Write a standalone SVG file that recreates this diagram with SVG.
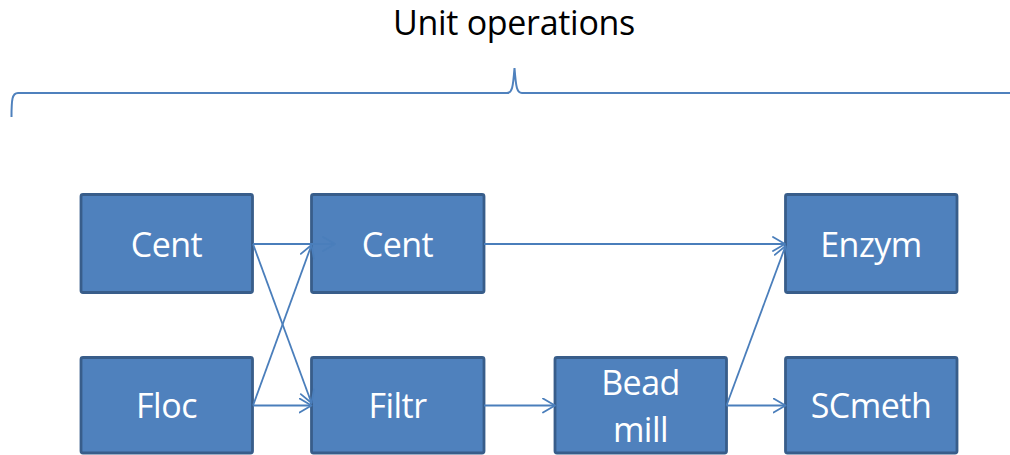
<svg xmlns="http://www.w3.org/2000/svg" width="1010" height="455" viewBox="0 0 1010 455">
  <defs>
    <marker id="arrow" markerUnits="userSpaceOnUse" markerWidth="16" markerHeight="18" refX="13" refY="8" orient="auto">
      <path d="M1,1 L13,8 L1,15" fill="none" stroke="#4a7ebb" stroke-width="1.8" stroke-linecap="round" stroke-linejoin="round"/>
    </marker>
  </defs>
  <style>
    .box { fill: #4f81bd; stroke: #385d8a; stroke-width: 2.8; }
    .label { font-family: "Open Sans", "Liberation Sans", sans-serif; font-size: 34px; letter-spacing: -0.5px; fill: #ffffff; text-anchor: middle; }
    .title { font-family: "Open Sans", "Liberation Sans", sans-serif; font-size: 34px; letter-spacing: -0.3px; fill: #000000; text-anchor: middle; }
    .link { fill: none; stroke: #4a7ebb; stroke-width: 1.8; marker-end: url(#arrow); }
    .brace { fill: none; stroke: #4f81bd; stroke-width: 2; }
  </style>

  <rect width="1010" height="455" fill="#ffffff"/>

  <text class="title" x="514" y="35">Unit operations</text>
  <path class="brace" d="M11.5,117 C11.5,100 12,93 18,93 L507,93 C512,93 513,88 514.5,68 C516,88 517,93 522,93 L1012,93"/>

  <g id="node-cent1">
    <rect class="box" x="81" y="194.5" width="171.5" height="98" rx="2"/>
    <text class="label" x="166.5" y="256.5">Cent</text>
  </g>
  <g id="node-floc">
    <rect class="box" x="81" y="357.5" width="171.5" height="95.5" rx="2"/>
    <text class="label" x="166.5" y="418">Floc</text>
  </g>
  <g id="node-cent2">
    <rect class="box" x="311.5" y="194.5" width="172.5" height="98" rx="2"/>
    <text class="label" x="397.5" y="256.5">Cent</text>
  </g>
  <g id="node-filtr">
    <rect class="box" x="311.5" y="357.5" width="172.5" height="95.5" rx="2"/>
    <text class="label" x="397.5" y="418">Filtr</text>
  </g>
  <g id="node-beadmill">
    <rect class="box" x="555" y="357.5" width="171.5" height="95.5" rx="2"/>
    <text class="label" x="640.5" y="395">Bead</text>
    <text class="label" x="640.5" y="442">mill</text>
  </g>
  <g id="node-enzym">
    <rect class="box" x="785.5" y="194.5" width="171.5" height="98" rx="2"/>
    <text class="label" x="871" y="256.5">Enzym</text>
  </g>
  <g id="node-scmeth">
    <rect class="box" x="785.5" y="357.5" width="171.5" height="95.5" rx="2"/>
    <text class="label" x="871" y="418">SCmeth</text>
  </g>

  <g id="connectors">
    <line class="link" x1="253" y1="244" x2="335" y2="244"/>
    <line class="link" x1="253" y1="244" x2="311.5" y2="403"/>
    <line class="link" x1="253" y1="405.5" x2="311.5" y2="245"/>
    <line class="link" x1="253" y1="405.5" x2="311.5" y2="405.5"/>
    <line class="link" x1="484" y1="244" x2="785" y2="244"/>
    <line class="link" x1="484" y1="405.5" x2="555" y2="405.5"/>
    <line class="link" x1="726.5" y1="405.5" x2="785.5" y2="246"/>
    <line class="link" x1="726.5" y1="405.5" x2="785.5" y2="405.5"/>
  </g>
</svg>
